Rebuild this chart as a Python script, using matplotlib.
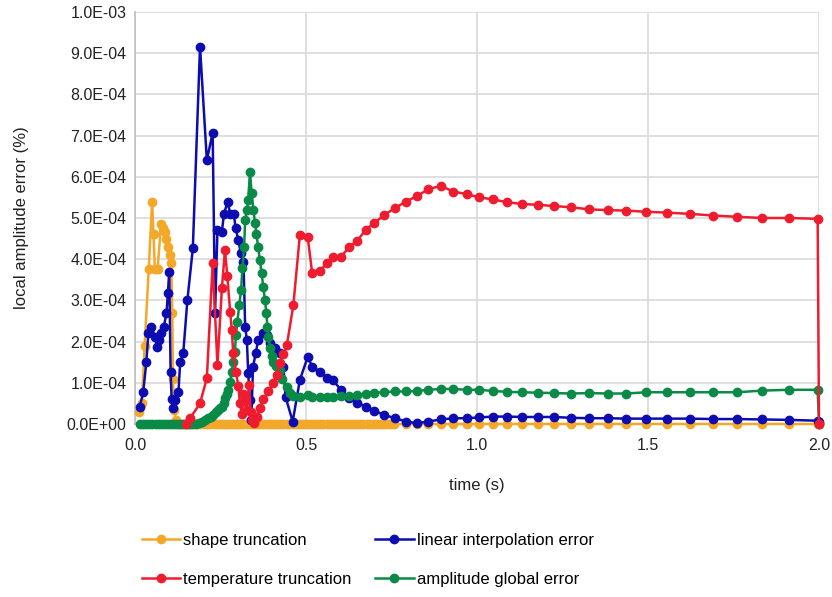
import matplotlib
matplotlib.use('Agg')
import matplotlib.pyplot as plt
from matplotlib.ticker import FuncFormatter
import numpy as np

plt.rcParams['font.family'] = ['Liberation Sans', 'DejaVu Sans']

# shared time steps of the late part of the run (s)
t_tail = [0.482, 0.505, 0.518, 0.541, 0.561, 0.578, 0.602, 0.627, 0.650, 0.675,
          0.700, 0.728, 0.760, 0.792, 0.824, 0.858, 0.894, 0.931, 0.970, 1.007,
          1.048, 1.089, 1.132, 1.178, 1.225, 1.275, 1.328, 1.382, 1.436, 1.495,
          1.556, 1.623, 1.690, 1.759, 1.834, 1.911, 1.996, 2.0]

# shape truncation (values in 1e-4 %)
t_shape = [0.012, 0.020, 0.028, 0.040, 0.050, 0.054, 0.058, 0.066, 0.076, 0.082,
           0.087, 0.092, 0.096, 0.101, 0.106, 0.109, 0.111, 0.114, 0.120,
           0.128, 0.137, 0.146, 0.155, 0.164, 0.173, 0.182, 0.191, 0.200, 0.209,
           0.218, 0.227, 0.236, 0.245, 0.254, 0.263, 0.272, 0.281, 0.290, 0.299,
           0.308, 0.317, 0.326, 0.335, 0.344, 0.353, 0.362, 0.371, 0.380, 0.389,
           0.398, 0.407, 0.416, 0.425, 0.434, 0.443, 0.452, 0.461, 0.470, 0.479,
           0.488, 0.497, 0.506, 0.515, 0.524, 0.533, 0.542, 0.551, 0.560, 0.569,
           0.578, 0.587, 0.596, 0.605, 0.614, 0.623, 0.632, 0.641, 0.650, 0.659,
           0.668, 0.677, 0.686, 0.695, 0.704, 0.713, 0.722, 0.731, 0.740, 0.749,
           0.758] + t_tail[13:]
shape = [0.3, 0.5, 1.9, 3.75, 5.4, 4.6, 3.75, 3.75, 4.85, 4.75,
         4.65, 4.5, 4.3, 4.1, 3.9, 2.7, 1.1, 0.35, 0.1] + [0.0] * 71 + [0.0] * 25

# linear interpolation error
t_linear = [0.014, 0.024, 0.033, 0.039, 0.048, 0.058, 0.064, 0.070, 0.077, 0.084,
            0.092, 0.096, 0.100, 0.104, 0.107, 0.111, 0.117, 0.127, 0.132, 0.141,
            0.153, 0.169, 0.190, 0.210, 0.227, 0.234, 0.241, 0.254, 0.260, 0.271,
            0.278, 0.289, 0.294, 0.302, 0.309, 0.317, 0.322, 0.327, 0.331, 0.336,
            0.340, 0.345, 0.353, 0.360, 0.374, 0.386, 0.396, 0.408, 0.424, 0.434,
            0.440, 0.461] + t_tail
linear = [0.42, 0.78, 1.5, 2.2, 2.36, 2.12, 1.88, 2.04, 2.2, 2.36,
          2.69, 3.17, 3.7, 1.27, 0.6, 0.4, 0.58, 0.78, 1.5, 1.72,
          3.0, 4.26, 9.16, 6.4, 7.07, 2.7, 4.7, 4.67, 5.1, 5.4,
          5.1, 5.1, 4.75, 4.47, 4.15, 3.94, 2.36, 2.04, 1.23, 0.58,
          0.1, 1.39, 1.72, 2.04, 2.2, 2.16, 1.96, 1.84, 1.72, 1.39,
          0.66, 0.06,
          1.07, 1.63, 1.39, 1.27, 1.11, 1.07, 0.83, 0.64, 0.52, 0.42,
          0.32, 0.22, 0.14, 0.06, 0.02, 0.06, 0.11, 0.14, 0.14, 0.16,
          0.18, 0.18, 0.17, 0.17, 0.17, 0.15, 0.14, 0.14, 0.13, 0.13,
          0.13, 0.13, 0.12, 0.12, 0.11, 0.10, 0.08, 0.05]

# temperature truncation
t_temp = [0.150, 0.161, 0.190, 0.210, 0.227, 0.241, 0.254, 0.263, 0.270, 0.278,
          0.283, 0.287, 0.295, 0.302, 0.307, 0.312, 0.317, 0.322, 0.327, 0.333,
          0.338, 0.343, 0.348, 0.356, 0.365, 0.375, 0.390, 0.404, 0.414, 0.424,
          0.434, 0.444, 0.463] + t_tail
temp = [0.0, 0.14, 0.5, 1.11, 3.9, 1.43, 3.3, 4.22, 3.58, 2.73,
        2.28, 1.72, 1.27, 0.91, 0.5, 0.25, 0.74, 0.55, 0.35, 0.95,
        0.3, 0.1, 0.02, 0.18, 0.4, 0.6, 0.8, 1.0, 1.2, 1.47,
        1.7, 1.92, 2.89,
        4.59, 4.53, 3.66, 3.72, 3.90, 4.06, 4.06, 4.30, 4.45, 4.72,
        4.88, 5.07, 5.24, 5.40, 5.53, 5.70, 5.78, 5.64, 5.58, 5.50,
        5.45, 5.38, 5.34, 5.32, 5.29, 5.26, 5.21, 5.19, 5.18, 5.15,
        5.13, 5.10, 5.06, 5.03, 5.00, 5.00, 4.98, 0.0]

# amplitude global error
t_amp = [0.015, 0.024, 0.033, 0.042, 0.051, 0.060, 0.069, 0.078, 0.087, 0.096,
         0.105, 0.114, 0.123, 0.132, 0.141, 0.150, 0.159, 0.168, 0.177,
         0.186, 0.195, 0.204, 0.214, 0.222, 0.229, 0.236, 0.243, 0.249, 0.254,
         0.259, 0.263, 0.268, 0.273, 0.278, 0.283, 0.287, 0.292, 0.295, 0.299,
         0.305, 0.310, 0.314, 0.319, 0.322, 0.327, 0.331, 0.336, 0.341, 0.346,
         0.351, 0.355, 0.360, 0.365, 0.370, 0.375, 0.380, 0.384, 0.387, 0.390,
         0.395, 0.400, 0.404, 0.412, 0.424, 0.431, 0.443, 0.453, 0.463] + t_tail
amp = [0.0] * 19 + [
    0.02, 0.05, 0.1, 0.14, 0.18, 0.22, 0.28, 0.35, 0.38, 0.42,
    0.52, 0.62, 0.72, 0.83, 1.03, 1.27, 1.51, 1.75, 2.16, 2.48,
    2.89, 3.25, 3.78, 4.3, 4.95, 5.2, 5.44, 6.12, 5.6, 5.2,
    4.87, 4.6, 4.3, 3.98, 3.66, 3.33, 3.0, 2.69, 2.36, 2.1,
    1.85, 1.65, 1.5, 1.4, 1.3, 1.1, 0.9, 0.75, 0.68,
    0.66, 0.70, 0.65, 0.65, 0.65, 0.66, 0.68, 0.68, 0.70, 0.73,
    0.76, 0.77, 0.79, 0.79, 0.80, 0.83, 0.85, 0.85, 0.83, 0.83,
    0.80, 0.78, 0.77, 0.76, 0.75, 0.74, 0.75, 0.74, 0.74, 0.77,
    0.77, 0.77, 0.77, 0.77, 0.81, 0.83, 0.83, 0.0]

c_shape = '#F4A82A'
c_linear = '#0C0CB0'
c_temp = '#EE1C2E'
c_amp = '#0A8A47'

fig = plt.figure(figsize=(8.32, 5.97), dpi=100)
ax = fig.add_axes([0.1623, 0.2898, 0.8221, 0.6901])

kw = dict(marker='o', markersize=6, linewidth=1.8, clip_on=False)
h1, = ax.plot(t_shape, np.array(shape) * 1e-4, color=c_shape, label='shape truncation', zorder=3, **kw)
h2, = ax.plot(t_linear, np.array(linear) * 1e-4, color=c_linear, label='linear interpolation error', zorder=4, **kw)
h4, = ax.plot(t_amp, np.array(amp) * 1e-4, color=c_amp, label='amplitude global error', zorder=5, **kw)
h3, = ax.plot(t_temp, np.array(temp) * 1e-4, color=c_temp, label='temperature truncation', zorder=6, **kw)

ax.set_xlim(0, 2.0)
ax.set_ylim(0, 1.0e-3)
ax.set_xticks([0.0, 0.5, 1.0, 1.5, 2.0])
ax.set_yticks(np.linspace(0, 1.0e-3, 11))
ax.xaxis.set_major_formatter(FuncFormatter(lambda v, p: '%.1f' % v))
ax.yaxis.set_major_formatter(FuncFormatter(lambda v, p: '%.1E' % v))
ax.tick_params(length=0, labelsize=11.5, colors='#222222')
ax.tick_params(axis='x', pad=10)
ax.tick_params(axis='y', pad=6)
ax.grid(True, color='#D9D9D9', linewidth=1.2, zorder=0)
ax.set_axisbelow(True)
for s in ['top', 'right']:
    ax.spines[s].set_visible(False)
ax.spines['left'].set_color('#BFBFBF')
ax.spines['bottom'].set_color('#BFBFBF')
ax.spines['left'].set_linewidth(1.2)
ax.spines['bottom'].set_linewidth(1.2)

ax.set_xlabel('time (s)', fontsize=12, color='#222222', labelpad=18)
ax.set_ylabel('local amplitude error (%)', fontsize=12, color='#222222', labelpad=27)

fig.legend([h1, h3, h2, h4],
           ['shape truncation', 'temperature truncation',
            'linear interpolation error', 'amplitude global error'],
           ncol=2, loc='center', bbox_to_anchor=(0.442, 0.062), frameon=False,
           fontsize=12, handlelength=2.3, handletextpad=0.2, columnspacing=1.42,
           labelspacing=1.4)

plt.savefig('out.png', dpi=100)
